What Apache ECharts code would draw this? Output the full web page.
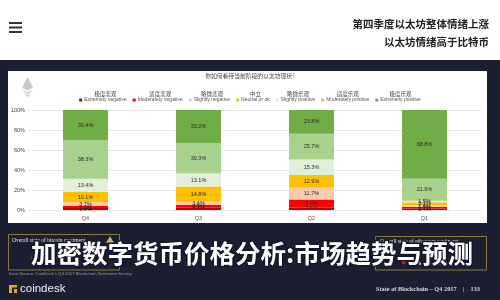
<!DOCTYPE html>
<html>
<head>
<meta charset="utf-8">
<script src="https://cdn.jsdelivr.net/npm/echarts@6/dist/echarts.min.js"></script>
<style>html,body{margin:0;padding:0;background:#fff}#c{width:500px;height:300px}</style>
</head>
<body>
<div id="c"></div>
<script>
// ---- data (stack order bottom → top) ----
const categories = ['Q4', 'Q3', 'Q2', 'Q1'];
const yTickLabels = ['0%', '20%', '40%', '60%', '80%', '100%'];
const seriesNamesEn = ['Extremely negative', 'Moderately negative', 'Slightly negative', 'Neutral or ok', 'Slightly positive', 'Moderately positive', 'Extremely positive'];
const seriesNamesCn = ['极度悲观', '适度悲观', '略微悲观', '中立', '略微乐观', '适度乐观', '极度乐观'];
const extremelyNegative = [1.9, 2.3, 2.6, 1.4];
const moderatelyNegative = [2.2, 2.9, 8.0, 1.9];
const slightlyNegative = [3.7, 3.4, 11.7, 1.4];
const neutral = [10.1, 14.8, 12.9, 3.1];
const slightlyPositive = [13.4, 13.1, 15.3, 1.5];
const moderatelyPositive = [38.3, 30.3, 25.7, 21.9];
const extremelyPositive = [30.4, 33.2, 23.8, 68.8];
const seriesValues = [extremelyNegative, moderatelyNegative, slightlyNegative, neutral, slightlyPositive, moderatelyPositive, extremelyPositive];
const seriesColors = ['#c00000', '#ff0000', '#f8cbad', '#ffc000', '#e2efda', '#a9d18e', '#70ad47'];

const headline1 = '第四季度以太坊整体情绪上涨';
const headline2 = '以太坊情绪高于比特币';
const panelTitle = '你如何看待当前阶段的以太坊现状?';
const bigTitle = '加密数字货币价格分析:市场趋势与预测';

const cnByEn = {};
seriesNamesEn.forEach((n, i) => cnByEn[n] = seriesNamesCn[i]);

const chart = echarts.init(document.getElementById('c'), null, {renderer: 'canvas'});

const series = seriesValues.map((vals, i) => ({
  name: seriesNamesEn[i],
  type: 'bar',
  stack: 'total',
  barWidth: 45,
  data: vals,
  itemStyle: {color: seriesColors[i]},
  label: {
    show: true,
    position: 'inside',
    formatter: p => p.value.toFixed(1) + '%',
    fontSize: 5.5,
    color: '#2a2a2a',
    fontFamily: 'Liberation Sans'
  },
  emphasis: {disabled: true}
}));

const option = {
  animation: false,
  backgroundColor: '#ffffff',
  textStyle: {fontFamily: 'Liberation Sans'},
  grid: {left: 29, right: 19, top: 110, bottom: 90, containLabel: false},
  xAxis: {
    type: 'category',
    data: categories,
    axisLine: {show: false},
    axisTick: {show: false},
    axisLabel: {fontSize: 5.5, color: '#555', margin: 5}
  },
  yAxis: {
    type: 'value',
    min: 0, max: 100, interval: 20,
    axisLabel: {fontSize: 5.5, color: '#444', margin: 4, formatter: v => yTickLabels[v / 20]},
    splitLine: {lineStyle: {color: '#e6e6e6', width: 1}},
    axisLine: {show: false}, axisTick: {show: false}
  },
  legend: {
    top: 86,
    left: 'center',
    itemWidth: 3,
    itemHeight: 3,
    itemGap: 6,
    icon: 'rect',
    data: seriesNamesEn,
    formatter: n => '{cn|' + cnByEn[n] + '}\n{en|' + n + '}\n{en| }',
    textStyle: {
      padding: [0, 0, 0, -3],
      rich: {
        cn: {fontSize: 5.5, lineHeight: 6.3, color: '#444', align: 'center', fontFamily: 'Noto Sans CJK SC'},
        en: {fontSize: 5, lineHeight: 6.3, color: '#555', fontFamily: 'Liberation Sans'}
      }
    }
  },
  graphic: [
    // page backgrounds
    {type: 'rect', z: -10, shape: {x: 0, y: 0, width: 500, height: 60}, style: {fill: '#ffffff'}},
    {type: 'rect', z: -10, shape: {x: 0, y: 60, width: 500, height: 240}, style: {fill: '#1c1f32'}},
    {type: 'rect', z: -9, shape: {x: 8, y: 71, width: 479, height: 152}, style: {fill: '#ffffff'}},
    // hamburger icon
    {type: 'rect', shape: {x: 9, y: 22, width: 13, height: 2}, style: {fill: '#333'}},
    {type: 'rect', shape: {x: 9, y: 26.5, width: 13, height: 2}, style: {fill: '#333'}},
    {type: 'rect', shape: {x: 9, y: 31, width: 13, height: 2}, style: {fill: '#333'}},
    // headline
    {type: 'text', style: {x: 489, y: 24, text: headline1, fill: '#222', fontSize: 10.5, fontWeight: 'bold', fontFamily: 'Noto Sans CJK SC', align: 'right', verticalAlign: 'middle'}},
    {type: 'text', style: {x: 489, y: 42, text: headline2, fill: '#222', fontSize: 10.5, fontWeight: 'bold', fontFamily: 'Noto Sans CJK SC', align: 'right', verticalAlign: 'middle'}},
    // ethereum logo
    {type: 'polygon', shape: {points: [[27.5, 77], [33, 87.5], [27.5, 90.5], [22, 87.5]]}, style: {fill: '#c9c9c9'}},
    {type: 'polygon', shape: {points: [[22, 89], [27.5, 92], [33, 89], [27.5, 98]]}, style: {fill: '#dcdcdc'}},
    // panel title
    {type: 'text', style: {x: 250, y: 76, text: panelTitle, fill: '#444', fontSize: 5.8, fontFamily: 'Noto Sans CJK SC', align: 'center', verticalAlign: 'middle'}},
    // bottom left box
    {type: 'rect', shape: {x: 8.5, y: 234.5, width: 111, height: 35.5}, style: {fill: 'none', stroke: '#8a7a3a', lineWidth: 1}},
    {type: 'text', style: {x: 12, y: 241, text: 'Overall state of bitcoin sentiment', fill: '#e6e6e6', fontSize: 5.5, fontFamily: 'Liberation Serif', verticalAlign: 'middle'}},
    {type: 'polygon', shape: {points: [[106, 243], [110, 236], [114, 243]]}, style: {fill: '#c9b27a'}},
    {type: 'text', style: {x: 62, y: 251, text: 'positive', fill: '#58a845', fontSize: 5.5, fontFamily: 'Liberation Serif', verticalAlign: 'middle'}},
    {type: 'text', style: {x: 30, y: 258, text: '11.7%  negative', fill: '#d83030', fontSize: 5.5, fontFamily: 'Liberation Serif', verticalAlign: 'middle'}},
    // bottom right box
    {type: 'rect', shape: {x: 375.5, y: 236.5, width: 111, height: 33.5}, style: {fill: 'none', stroke: '#8a7a3a', lineWidth: 1}},
    {type: 'text', style: {x: 380, y: 242, text: 'Overall state of ethereum sentiment', fill: '#e6e6e6', fontSize: 5.5, fontFamily: 'Liberation Serif', verticalAlign: 'middle'}},
    {type: 'polygon', shape: {points: [[401, 261], [406, 261], [403.5, 265]]}, style: {fill: '#e02020'}},
    {type: 'text', style: {x: 408, y: 263, text: '8.6%', fill: '#ffffff', fontSize: 6, fontWeight: 'bold', fontFamily: 'Liberation Serif', verticalAlign: 'middle'}},
    {type: 'text', style: {x: 430, y: 263, text: 'negative', fill: '#e02020', fontSize: 6, fontFamily: 'Liberation Serif', verticalAlign: 'middle'}},
    // source + logos
    {type: 'text', style: {x: 9, y: 274, text: "Data Source: CoinDesk's Q4 2017 Blockchain Sentiment Survey", fill: '#9a9ca8', fontSize: 4.3, fontFamily: 'Liberation Sans', verticalAlign: 'middle'}},
    {type: 'rect', shape: {x: 9, y: 285, width: 3, height: 8}, style: {fill: '#e0a92a'}},
    {type: 'rect', shape: {x: 9, y: 285, width: 8, height: 2.5}, style: {fill: '#e0a92a'}},
    {type: 'rect', shape: {x: 14, y: 289, width: 3, height: 4}, style: {fill: '#e0a92a'}},
    {type: 'text', style: {x: 20, y: 289, text: 'coindesk', fill: '#f2f2f2', fontSize: 11.5, fontFamily: 'Liberation Sans', verticalAlign: 'middle'}},
    {type: 'text', style: {x: 480, y: 289, text: 'State of Blockchain \u2013 Q4 2017    |    133', fill: '#d8d8d8', fontSize: 6.3, fontWeight: 'bold', fontFamily: 'Liberation Serif', align: 'right', verticalAlign: 'middle'}},
    // big overlay title
    {type: 'text', z: 100, style: {x: 252, y: 253, text: bigTitle, fill: '#ffffff', stroke: '#15172a', lineWidth: 3, fontSize: 25.5, fontWeight: 'bold', fontFamily: 'Noto Sans CJK SC', align: 'center', verticalAlign: 'middle'}}
  ],
  series: series
};
chart.setOption(option);
</script>
</body>
</html>
